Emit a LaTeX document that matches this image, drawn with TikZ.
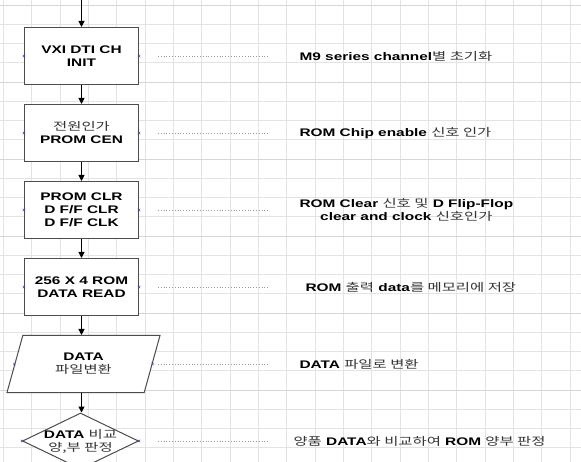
\documentclass[tikz,border=0pt]{standalone}
\usepackage{fontspec}
\setmainfont{Liberation Sans}[FakeStretch=1.4]
\newfontfamily\kr{Noto Sans CJK KR}[FakeStretch=1.4]
\usetikzlibrary{arrows.meta,shapes.geometric}
\newcommand\ko[1]{{\kr\mdseries\color{black!80}#1}}

\begin{document}
\begin{tikzpicture}[
    x=1pt, y=-1pt,
    box/.style={draw=black!70, fill=white, line width=1pt, minimum width=114pt, minimum height=57pt, align=center, inner sep=1pt},
    io/.style={draw=black!70, fill=white, line width=1pt, trapezium, trapezium left angle=56, trapezium right angle=124, trapezium stretches body, minimum width=153pt, minimum height=57pt, align=center, inner sep=1pt},
    decide/.style={draw=black!70, fill=white, line width=1pt, diamond, aspect=2.05, minimum width=116pt, minimum height=56pt, inner sep=0pt},
    note/.style={anchor=west, align=center},
    leader/.style={gray!80, line width=0.8pt, dash pattern=on 0.9pt off 1.9pt},
    gridline/.style={gray!22, line width=0.6pt},
    gridmajor/.style={gray!32, line width=0.7pt},
    cpt/.style={blue!45!gray, line width=0.5pt},
    >={Triangle[length=6pt, width=6pt]},
    font=\fontsize{11}{13}\selectfont\bfseries
]
    \useasboundingbox (0,0) rectangle (581,462);
    \clip (0,0) rectangle (581,462);

    % background grid
    \foreach \i in {0,...,20}
        \draw[gridline] ({3.4+28.33*\i},0) -- ++(0,462);
    \foreach \j in {0,...,24}
        \draw[gridline] (0,{5+19.25*\j}) -- ++(581,0);
    \foreach \j in {0,...,6}
        \draw[gridmajor] (0,{5+77*\j}) -- ++(581,0);

    % flow steps
    \coordinate (start) at (81.5, 0);
    \node[box] (v1) at (81.5, 56)  {VXI DTI CH\\INIT};
    \node[box] (v2) at (81.5, 133) {\ko{전원인가}\\PROM CEN};
    \node[box] (v3) at (81.5, 210) {PROM CLR\\D F/F CLR\\D F/F CLK};
    \node[box] (v4) at (81.5, 287) {256 X 4 ROM\\DATA READ};
    \node[io] (v5) at (83.5, 364) {DATA\\\ko{파일변환}};
    \node[decide, label={[align=center]center:DATA \ko{비교}\\\ko{양,부 판정}}] (v6) at (80.5, 441) {};

    % connection points
    \foreach \n in {v1,v2,v3,v4,v5,v6}
        \foreach \a in {west,east}
            \draw[cpt] ([shift={(-1.3,-1.3)}]\n.\a) -- ++(2.6,2.6) ([shift={(-1.3,1.3)}]\n.\a) -- ++(2.6,-2.6);

    % arrows
    \draw[->, line width=1pt] (start) -- (v1);
    \draw[->, line width=1pt] (v1) -- (v2);
    \draw[->, line width=1pt] (v2) -- (v3);
    \draw[->, line width=1pt] (v3) -- (v4);
    \draw[->, line width=1pt] (v4.south) -- (v4.south |- v5.north);
    \draw[->, line width=1pt] (v4.south |- v5.south) -- (v4.south |- v6.north);

    % descriptions
    \node[note] (d1) at (296, 56)  {M9 series channel\ko{별 초기화}};
    \node[note] (d2) at (296, 133) {ROM Chip enable \ko{신호 인가}};
    \node[note] (d3) at (296, 210) {ROM Clear \ko{신호 및} D Flip-Flop\\clear and clock \ko{신호인가}};
    \node[note] (d4) at (302, 287) {ROM \ko{출력} data\ko{를 메모리에 저장}};
    \node[note] (d5) at (296, 364) {DATA \ko{파일로 변환}};
    \node[note] (d6) at (290, 441) {\ko{양품} DATA\ko{와 비교하여} ROM \ko{양부 판정}};

    % dotted leaders
    \coordinate (lstart) at (158, 0);
    \coordinate (lend) at (268, 0);
    \foreach \n in {v1,v2,v3,v4,v5,v6}
        \draw[leader] (\n.center -| lstart) -- (\n.center -| lend);

\end{tikzpicture}
\end{document}
